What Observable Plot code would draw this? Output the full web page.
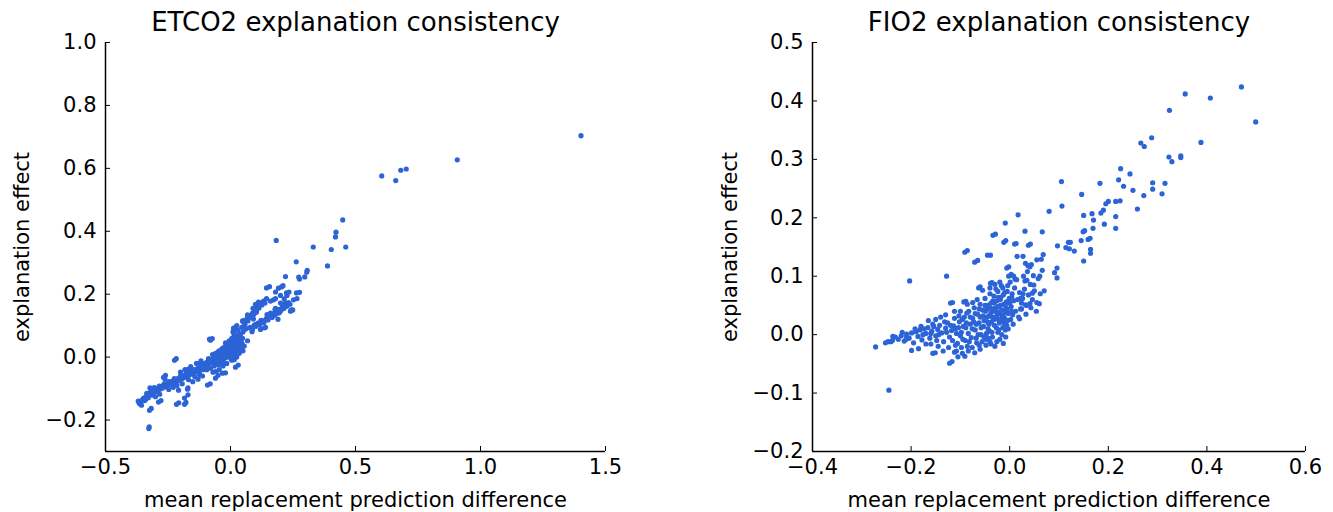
<!DOCTYPE html>
<html><head><meta charset="utf-8">
<script src="https://cdn.jsdelivr.net/npm/d3@7"></script>
<script src="https://cdn.jsdelivr.net/npm/@observablehq/plot@0.6"></script>
<style>
body{margin:0;background:#fff;width:1333px;height:512px;overflow:hidden;font-family:"DejaVu Sans",sans-serif}
#wrap{display:flex;width:1333px;height:512px}
</style></head><body><div id="wrap"></div>
<script>
const titles = ["ETCO2 explanation consistency", "FIO2 explanation consistency"];
const xLabel = "mean replacement prediction difference";
const yLabel = "explanation effect";
const etco2XTicks = [-0.5, 0.0, 0.5, 1.0, 1.5];
const etco2YTicks = [-0.2, 0.0, 0.2, 0.4, 0.6, 0.8, 1.0];
const fio2XTicks = [-0.4, -0.2, 0.0, 0.2, 0.4, 0.6];
const fio2YTicks = [-0.2, -0.1, 0.0, 0.1, 0.2, 0.3, 0.4, 0.5];

const etco2Points = [
[1.402,0.704],[0.907,0.627],[0.605,0.576],[0.661,0.561],[0.681,0.594],[0.703,0.598],[0.449,0.436],[0.422,0.397],[0.420,0.382],[0.461,0.350],[0.403,0.342],[0.331,0.350],[0.183,0.371],[0.388,0.290],[0.263,0.303],[0.307,0.276],[0.305,0.270],[0.220,0.256],[0.273,0.254],[0.276,0.248],[0.297,0.255],[0.156,0.224],[0.210,0.227],[0.192,0.219],[0.234,0.207],[0.276,0.206],[0.266,0.186],[0.200,0.196],[0.180,0.186],[0.120,0.172],[0.114,0.164],[0.220,0.172],[0.249,0.150],[0.178,0.151],[0.195,0.141],[0.169,0.130],[0.103,0.143],[0.068,0.134],[0.051,0.115],[0.146,0.135],[0.122,0.117],[0.102,0.104],[0.076,0.093],[0.136,0.093],[0.086,0.081],[0.019,0.094],[0.014,0.077],[0.034,0.061],[0.068,0.052],[-0.073,0.059],[-0.217,-0.005],[0.031,-0.025],[0.000,0.019],[-0.036,0.010],[-0.120,-0.018],[-0.170,-0.039],[-0.081,-0.085],[-0.020,-0.050],[-0.050,-0.058],[-0.260,-0.058],[-0.170,-0.098],[-0.170,-0.120],[-0.178,-0.144],[-0.207,-0.145],[-0.278,-0.138],[-0.317,-0.163],[-0.325,-0.222],[-0.327,-0.227],[-0.369,-0.140],[-0.363,-0.148],[-0.356,-0.153],[-0.339,-0.134],[-0.322,-0.098],[-0.305,-0.097],
[-0.365,-0.146],[-0.358,-0.143],[-0.352,-0.135],[-0.347,-0.130],[-0.343,-0.138],[-0.338,-0.126],[-0.333,-0.121],[-0.329,-0.129],[-0.325,-0.117],[-0.321,-0.112],[-0.316,-0.121],[-0.312,-0.108],[-0.308,-0.114],[-0.303,-0.104],[-0.299,-0.110],[-0.295,-0.100],[-0.290,-0.106],[-0.286,-0.097],[-0.282,-0.102],[-0.277,-0.093],[-0.273,-0.099],[-0.268,-0.090],[-0.263,-0.095],[-0.259,-0.087],[-0.255,-0.091],[-0.250,-0.084],[-0.246,-0.089],[-0.241,-0.080],[-0.237,-0.085],[-0.232,-0.077],[-0.228,-0.081],[-0.223,-0.073],
[-0.219,-0.078],[-0.214,-0.069],[-0.210,-0.075],[-0.205,-0.066],[-0.201,-0.071],[-0.197,-0.063],[-0.192,-0.068],[-0.188,-0.059],[-0.183,-0.064],[-0.179,-0.056],[-0.175,-0.061],[-0.171,-0.052],[-0.166,-0.058],[-0.162,-0.049],[-0.158,-0.054],[-0.154,-0.045],[-0.150,-0.051],[-0.146,-0.042],[-0.142,-0.047],[-0.138,-0.039],[-0.134,-0.044],[-0.130,-0.036],[-0.126,-0.041],[-0.122,-0.032],
[-0.300,-0.126],[-0.283,-0.118],[-0.262,-0.070],[-0.247,-0.103],[-0.229,-0.096],[-0.214,-0.090],[-0.200,-0.048],[-0.193,-0.085],[-0.182,-0.040],[-0.168,-0.072],[-0.159,-0.030],[-0.151,-0.078],[-0.143,-0.062],[-0.136,-0.020],[-0.130,-0.070],[-0.124,-0.055],[-0.118,-0.012],[-0.112,-0.060],
[-0.208,-0.105],[-0.288,-0.143],[-0.216,-0.150],[-0.184,-0.150],[-0.324,-0.169],[-0.184,-0.130],[-0.172,-0.102],[-0.224,-0.010],[-0.268,-0.064],[-0.092,-0.089],[-0.060,-0.067],[-0.032,-0.051],[0.020,-0.032],[-0.080,0.054],[0.008,-0.003],
[-0.118,-0.028],[-0.114,-0.034],[-0.110,-0.024],[-0.106,-0.030],[-0.102,-0.020],[-0.098,-0.027],[-0.094,-0.016],[-0.090,-0.023],[-0.086,-0.013],[-0.082,-0.019],[-0.078,-0.009],[-0.074,-0.016],[-0.070,-0.005],[-0.066,-0.012],[-0.062,-0.002],[-0.058,-0.008],[-0.054,0.002],[-0.050,-0.004],[-0.046,0.006],[-0.042,-0.001],[-0.038,0.009],[-0.034,0.003],[-0.030,0.013],[-0.026,0.007],[-0.022,0.017],[-0.018,0.010],[-0.014,0.021],[-0.010,0.014],[-0.006,0.025],[-0.002,0.018],[0.002,0.029],[0.006,0.022],[0.010,0.033],[0.014,0.026],[0.018,0.037],[0.022,0.030],[0.026,0.042],[0.030,0.035],[0.034,0.046],[0.038,0.039],[0.042,0.051],[0.046,0.044],
[-0.095,-0.040],[-0.088,-0.005],[-0.080,-0.035],[-0.072,0.008],[-0.065,-0.028],[-0.060,0.012],[-0.055,-0.020],[-0.048,0.018],[-0.044,-0.015],[-0.040,0.022],[-0.036,-0.010],[-0.032,0.028],[-0.028,-0.006],[-0.024,0.032],[-0.020,-0.002],[-0.016,0.036],[-0.012,0.002],[-0.008,0.040],[-0.004,0.006],[0.000,0.044],[0.004,0.010],[0.008,0.050],[0.012,0.015],[0.016,0.058],[0.020,0.020],[0.024,0.064],[0.028,0.024],[0.032,0.070],[0.036,0.028],[0.040,0.072],[0.044,0.032],[0.048,0.060],
[-0.058,-0.045],[-0.045,-0.040],[-0.030,-0.028],[-0.015,-0.020],[0.005,-0.010],[0.015,-0.008],[-0.070,-0.048],[0.025,0.000],[0.035,0.012],[0.050,0.020],[0.055,0.035],
[0.010,0.080],[0.020,0.090],[0.025,0.100],[0.015,0.070],[0.030,0.085],[0.005,0.060],[-0.005,0.052],[-0.020,0.045],
[0.045,0.095],[0.052,0.112],[0.058,0.104],[0.064,0.120],[0.070,0.115],[0.076,0.132],[0.082,0.126],[0.088,0.140],[0.094,0.136],[0.098,0.150],[0.104,0.145],[0.108,0.160],[0.114,0.156],[0.120,0.170],[0.126,0.166],[0.132,0.178],[0.138,0.172],[0.144,0.186],[0.112,0.175],[0.100,0.168],[0.090,0.155],[0.070,0.130],[0.060,0.090],[0.050,0.080],
[0.080,0.095],[0.088,0.088],[0.095,0.102],[0.102,0.098],[0.110,0.108],[0.118,0.104],[0.126,0.115],[0.134,0.110],[0.142,0.122],[0.150,0.118],[0.158,0.130],[0.166,0.126],[0.172,0.138],[0.178,0.133],[0.184,0.146],[0.190,0.140],[0.196,0.152],[0.202,0.148],[0.208,0.160],[0.214,0.155],[0.220,0.166],[0.226,0.162],[0.232,0.173],[0.238,0.168],[0.244,0.150],[0.180,0.155],[0.160,0.140],[0.140,0.095],[0.120,0.088],[0.190,0.120],[0.215,0.185],[0.226,0.196],
[0.144,0.220],[0.204,0.223],[0.180,0.207],[0.224,0.204],[0.264,0.204],[0.252,0.182],[0.172,0.182],[0.160,0.178],[0.200,0.172],[0.212,0.156],[0.240,0.146],[0.112,0.169],[0.100,0.146],[0.092,0.121],[0.048,0.115],[0.060,0.089],[0.012,0.092],[-0.084,0.057],
[-0.096,-0.022],[-0.084,-0.016],[-0.076,-0.012],[-0.068,-0.008],[-0.064,-0.020],[-0.056,-0.002],[-0.052,-0.012],[-0.044,0.004],[-0.040,-0.006],[-0.036,0.014],[-0.028,0.010],[-0.024,0.000],[-0.020,0.024],[-0.012,0.018],[-0.008,0.030],[-0.004,0.012],[0.000,0.024],[0.004,0.034],[0.008,0.020],[0.012,0.040],[0.016,0.030],[0.020,0.046],[0.028,0.050],[0.032,0.040],[0.036,0.054],[0.040,0.046],[0.044,0.060],[-0.016,0.004],[-0.032,-0.016],[-0.048,-0.024],[0.000,-0.004],[0.010,0.004],[0.022,0.012],[0.030,0.020],[-0.110,-0.040],[-0.126,-0.048],[-0.150,-0.040],[-0.175,-0.048],[-0.200,-0.060],[-0.225,-0.068],[-0.245,-0.078],[-0.265,-0.085],[-0.285,-0.092],[-0.310,-0.100],[-0.335,-0.115]
];

const fio2Points = [
[0.470,0.424],[0.499,0.364],[0.407,0.405],[0.356,0.412],[0.324,0.384],[0.388,0.329],[0.288,0.337],[0.266,0.328],[0.273,0.322],[0.323,0.304],[0.329,0.296],[0.347,0.306],[0.347,0.303],[0.225,0.284],[0.244,0.275],[0.221,0.265],[0.231,0.254],[0.183,0.259],[0.290,0.260],[0.315,0.259],[0.290,0.249],[0.250,0.247],[0.309,0.241],[0.272,0.238],[0.105,0.262],[0.146,0.240],[0.200,0.228],[0.195,0.224],[0.215,0.228],[0.224,0.229],[0.259,0.215],[0.106,0.220],[0.190,0.213],[0.167,0.207],[0.185,0.208],[0.215,0.202],[0.150,0.204],[0.080,0.211],[0.017,0.205],[-0.009,0.191],[0.170,0.196],[0.192,0.189],[0.215,0.182],[0.169,0.182],[0.066,0.176],[0.031,0.177],[-0.029,0.172],[0.149,0.176],[0.152,0.178],[0.163,0.165],[0.159,0.163],[0.145,0.161],[-0.008,0.161],[0.013,0.156],[0.042,0.155],[0.119,0.158],[0.123,0.158],[0.114,0.149],[0.121,0.147],[0.131,0.143],[0.097,0.152],[0.164,0.146],[0.164,0.139],[-0.086,0.144],[-0.039,0.136],[-0.065,0.127],[0.015,0.134],[0.027,0.134],[0.068,0.137],[0.064,0.129],[0.055,0.128],[0.150,0.126],[0.032,0.122],[0.037,0.118],[0.041,0.116],[-0.002,0.116],[-0.128,0.100],[-0.203,0.092],[0.096,0.114],[0.091,0.106],[0.096,0.097],[0.048,0.101],[0.061,0.100],[0.003,0.103],[0.011,0.095],[0.031,0.092],[0.035,0.093],[-0.036,0.089],[-0.060,0.082],[0.049,0.085],[0.070,0.075],[0.046,0.071],[0.027,0.070],[0.022,0.062],[0.041,0.053],[0.055,0.055],[0.060,0.053],[-0.116,0.055],[-0.089,0.057],[0.032,0.051],[0.024,0.044],[0.043,0.046],[0.020,0.027],[0.033,0.035],[-0.013,-0.015],[-0.245,-0.095],[-0.272,-0.021],[-0.117,-0.046],[-0.151,-0.031],
[-0.034,0.170],[-0.012,0.158],[0.010,0.155],[0.038,0.153],[-0.091,0.141],[-0.071,0.124],[-0.045,0.136],[-0.006,0.114],[-0.039,0.088],[-0.063,0.080],[-0.087,0.037],
[-0.252,-0.014],[-0.241,-0.012],[-0.237,-0.003],[-0.209,-0.003],[-0.199,-0.027],[-0.185,-0.024],[-0.156,-0.032],[-0.122,-0.049],[-0.091,-0.037],[-0.071,-0.031],
[-0.247,-0.012],[-0.238,-0.010],[-0.232,-0.004],[-0.226,-0.008],[-0.220,-0.002],[-0.214,-0.011],[-0.209,0.001],[-0.204,-0.006],[-0.199,0.003],[-0.195,-0.014],[-0.190,0.005],[-0.186,-0.003],[-0.182,0.008],[-0.178,-0.009],[-0.174,0.010],[-0.170,0.002],[-0.166,0.012],[-0.162,-0.006],[-0.158,0.006],[-0.154,0.014],[-0.150,-0.002],[-0.146,0.009],[-0.142,0.016],[-0.138,0.003],[-0.134,-0.012],[-0.130,0.011],[-0.126,0.020],[-0.122,-0.004],[-0.118,0.007],[-0.114,0.015],
[-0.170,-0.016],[-0.145,-0.020],[-0.135,-0.028],[-0.112,-0.030],[-0.105,-0.038],[-0.098,-0.022],[-0.084,-0.028],[-0.060,-0.025],[-0.048,-0.018],[-0.040,-0.012],[-0.030,-0.020],[-0.020,-0.008],
[-0.165,0.024],[-0.150,0.026],[-0.140,0.030],[-0.130,0.034],[-0.120,0.054],[-0.093,0.056],
[-0.110,0.010],[-0.106,-0.015],[-0.102,0.022],[-0.098,0.004],[-0.095,-0.008],[-0.092,0.030],[-0.089,0.012],[-0.086,-0.020],[-0.083,0.040],[-0.080,0.018],[-0.078,-0.005],[-0.075,0.028],[-0.072,0.046],[-0.070,0.008],[-0.067,-0.014],[-0.065,0.035],[-0.062,0.020],[-0.060,0.052],[-0.058,0.000],[-0.055,0.042],[-0.053,0.014],[-0.050,0.062],[-0.048,-0.008],[-0.046,0.030],[-0.044,0.050],[-0.042,0.018],[-0.040,0.070],[-0.038,0.038],[-0.036,0.004],[-0.034,0.058],[-0.032,0.026],[-0.030,0.045],[-0.028,0.078],[-0.027,0.012],[-0.025,0.034],[-0.023,0.064],[-0.021,0.020],[-0.019,0.050],[-0.017,0.084],[-0.015,0.030],[-0.013,0.068],[-0.011,0.042],[-0.009,0.008],[-0.007,0.056],[-0.005,0.074],[-0.003,0.036],[-0.001,0.062],[0.001,0.090],[0.003,0.048],[0.005,0.070],[0.008,0.058],[0.010,0.080],
[-0.052,0.024],[-0.044,0.010],[-0.037,0.022],[-0.033,0.040],[-0.029,0.030],[-0.024,0.048],[-0.020,0.036],[-0.016,0.024],[-0.012,0.052],[-0.008,0.040],[-0.004,0.024],[-0.042,0.032],[-0.046,0.044],[-0.038,0.054],[-0.026,0.058],[-0.018,0.064],[-0.010,0.072],[-0.060,0.030],[-0.068,0.018],[-0.076,0.010],[-0.084,0.002],[-0.090,-0.010],[-0.100,-0.002],[-0.108,0.002],[-0.064,0.000],[-0.056,-0.012],[-0.047,0.002],[-0.035,-0.004],[-0.024,0.004],[-0.014,0.012],[-0.006,0.016],[0.002,0.026],[0.006,0.034],[0.012,0.040],[0.016,0.060],[0.020,0.072],[0.024,0.054],[0.014,0.094],[0.008,0.100],[-0.002,0.100],[-0.020,0.090],[-0.030,0.086],[-0.040,0.080],[-0.055,0.076],[-0.075,0.055],[-0.086,0.052],[-0.100,0.040],[-0.112,0.028],
[0.018,0.030],[0.022,0.044],[0.026,0.062],[0.030,0.078],[0.034,0.050],[0.038,0.068],[0.042,0.086],[0.046,0.060],[0.050,0.075],[0.054,0.040],[0.058,0.096],[0.062,0.070],[0.066,0.110],[0.028,0.100],[0.036,0.108],[0.044,0.120],
[-0.058,0.012],[-0.054,0.032],[-0.049,0.040],[-0.045,0.022],[-0.041,0.006],[-0.039,0.046],[-0.035,0.030],[-0.031,0.016],[-0.031,0.054],[-0.027,0.040],[-0.023,0.026],[-0.022,0.008],[-0.019,0.060],[-0.017,0.042],[-0.013,0.034],[-0.011,0.020],[-0.009,0.050],[-0.005,0.044],[-0.003,0.010],[0.000,0.054],[0.004,0.040],[0.007,0.018],[-0.070,0.036],[-0.073,0.022],[-0.080,0.030],[-0.088,0.020],[-0.094,0.014],[-0.104,0.012],[-0.096,0.026],[-0.082,-0.012],[-0.076,-0.022],[-0.068,-0.006],[-0.062,-0.018],[-0.052,-0.004],[-0.044,-0.006],[-0.038,-0.016],[-0.026,-0.012],[-0.016,0.000],[-0.008,-0.004],[-0.010,0.028],[-0.062,0.044],[-0.050,0.050],[-0.066,0.060],[-0.032,0.066],[-0.024,0.074],[-0.014,0.080],[-0.004,0.084],[0.004,0.064],[-0.120,0.016],[-0.116,-0.010],[-0.110,-0.018],[-0.128,0.004],[-0.132,0.022],[-0.144,0.000],[-0.156,0.018],[-0.160,0.002],[-0.176,0.000],[-0.180,0.014],[-0.192,0.010],[-0.210,-0.008],[-0.218,0.004],[-0.160,-0.016],[-0.148,-0.010],[-0.124,-0.022],[-0.108,-0.028],[-0.096,-0.032],[-0.112,0.040],[-0.103,0.032]
];

const dotColor = "#2c63d6";
const fmt = d3.format(".1f");

function panel({points, title, xDomain, yDomain, xTicks, yTicks, width, ml, mr, yLabelX}) {
  const H = 512, mt = 42, mb = 61;
  const fw = width - ml - mr, fh = H - mt - mb;
  return Plot.plot({
    width, height: H, marginLeft: ml, marginRight: mr, marginTop: mt, marginBottom: mb,
    style: {fontFamily: '"DejaVu Sans", sans-serif', background: "white", color: "#000", overflow: "visible"},
    x: {domain: xDomain},
    y: {domain: yDomain},
    marks: [
      Plot.dot(points, {x: d => d[0], y: d => d[1], r: 2.6, fill: dotColor, stroke: null}),
      Plot.axisX({ticks: xTicks, tickSize: 0, tickPadding: 8, fontSize: 21, tickFormat: fmt, label: null}),
      Plot.axisY({ticks: yTicks, tickSize: 0, tickPadding: 9, fontSize: 21, tickFormat: fmt, label: null}),
      Plot.tickX(xTicks, {x: d => d, insetTop: fh - 5, stroke: "#000", strokeWidth: 1}),
      Plot.tickY(yTicks, {y: d => d, insetRight: fw - 5, stroke: "#000", strokeWidth: 1}),
      Plot.ruleX([xDomain[0]], {stroke: "#000", strokeWidth: 1.5}),
      Plot.ruleY([yDomain[0]], {stroke: "#000", strokeWidth: 1.5}),
      Plot.text([title], {frameAnchor: "top", dy: -20, fontSize: 26, fill: "#000", lineAnchor: "middle", textAnchor: "middle"}),
      Plot.text([xLabel], {frameAnchor: "bottom", dy: 49, fontSize: 21, fill: "#000", lineAnchor: "middle", textAnchor: "middle"}),
      Plot.text([yLabel], {frameAnchor: "left", dx: -(ml - yLabelX), rotate: -90, fontSize: 21, fill: "#000", lineAnchor: "middle", textAnchor: "middle"})
    ]
  });
}

const wrap = document.getElementById("wrap");
wrap.append(panel({points: etco2Points, title: titles[0], xDomain: [-0.5, 1.5], yDomain: [-0.3, 1.0], xTicks: etco2XTicks, yTicks: etco2YTicks, width: 666, ml: 105, mr: 61, yLabelX: 22}));
wrap.append(panel({points: fio2Points, title: titles[1], xDomain: [-0.4, 0.6], yDomain: [-0.2, 0.5], xTicks: fio2XTicks, yTicks: fio2YTicks, width: 667, ml: 146, mr: 28, yLabelX: 64}));
</script></body></html>
